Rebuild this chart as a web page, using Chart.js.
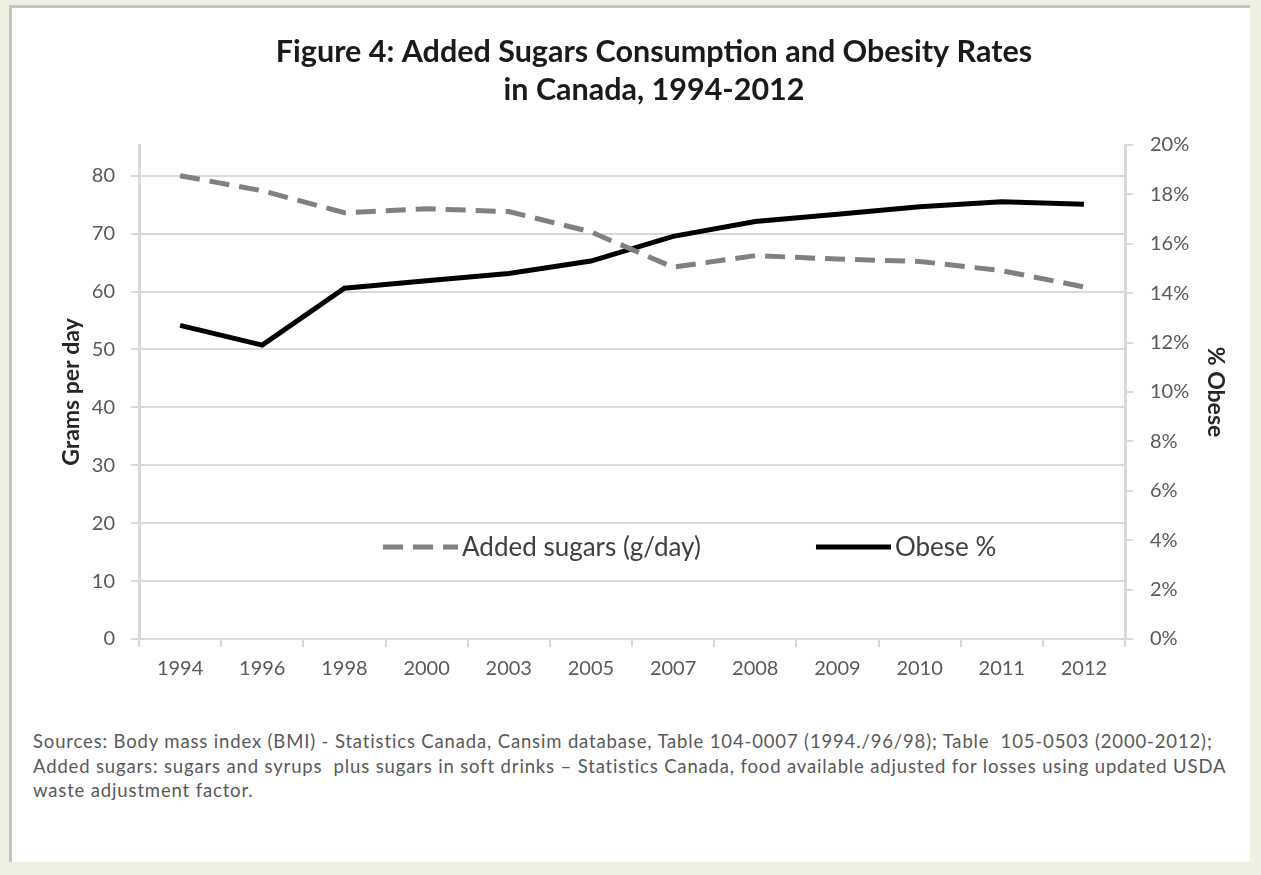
<!DOCTYPE html>
<html>
<head>
<meta charset="utf-8">
<script src="https://cdn.jsdelivr.net/npm/chart.js@4"></script>
<style>
  body { margin: 0; background: #eef0e1; font-family: 'Lato', sans-serif; }
  #box { position: absolute; left: 9px; top: 5px; width: 1238px; height: 854px; background: #fff;
         border-left: 3px solid #c4c4c4; border-top: 3px solid #c4c4c4; }
  #wrap { position: absolute; left: 0; top: 0; width: 1261px; height: 700px; }
  #source { position: absolute; left: 33px; top: 729px; font-size: 18.5px; letter-spacing: 0.85px; line-height: 24.5px; color: #595959; white-space: nowrap; }
</style>
</head>
<body>
<div id="box"></div>
<div id="wrap"><canvas id="chart" width="1261" height="700"></canvas></div>
<div id="source">
Sources: Body mass index (BMI) - Statistics Canada, Cansim database, Table 104-0007 (1994./96/98); Table&nbsp; 105-0503 (2000-2012);<br>
Added sugars: sugars and syrups&nbsp; plus sugars in soft drinks – Statistics Canada, food available adjusted for losses using updated USDA<br>
waste adjustment factor.
</div>
<script>
const years = ['1994', '1996', '1998', '2000', '2003', '2005', '2007', '2008', '2009', '2010', '2011', '2012'];
const addedSugars = [80.0, 77.4, 73.6, 74.3, 73.8, 70.3, 64.2, 66.2, 65.6, 65.2, 63.6, 60.8];
const obese = [12.7, 11.9, 14.2, 14.5, 14.8, 15.3, 16.3, 16.9, 17.2, 17.5, 17.7, 17.6];
const titleLines = ['Figure 4: Added Sugars Consumption and Obesity Rates', 'in Canada, 1994-2012'];

const gridGrey = '#d9d9d9';
const tickFont = { family: 'Lato', size: 20 };

// legend drawn inside the plot area, like the original
const insideLegend = {
    id: 'insideLegend',
    afterDatasetsDraw(chart) {
        const { ctx, chartArea } = chart;
        const w = chartArea.right - chartArea.left;
        const y = chartArea.top + (chartArea.bottom - chartArea.top) * 0.814;
        const starts = [0.2475, 0.6866];
        ctx.save();
        ctx.font = '26px Lato';
        ctx.textBaseline = 'middle';
        chart.data.datasets.forEach((ds, i) => {
            const x = chartArea.left + w * starts[i];
            ctx.beginPath();
            ctx.lineWidth = ds.borderWidth;
            ctx.strokeStyle = ds.borderColor;
            ctx.setLineDash(ds.borderDash || []);
            ctx.moveTo(x, y);
            ctx.lineTo(x + 75, y);
            ctx.stroke();
            ctx.fillStyle = '#404040';
            ctx.fillText(ds.label, x + 79, y);
        });
        ctx.restore();
    }
};

new Chart(document.getElementById('chart'), {
    type: 'line',
    data: {
        labels: years,
        datasets: [{
            label: 'Added sugars (g/day)',
            data: addedSugars,
            borderColor: '#808080',
            borderWidth: 5,
            borderDash: [20, 10],
            pointRadius: 0,
            yAxisID: 'y'
        }, {
            label: 'Obese %',
            data: obese,
            borderColor: '#000000',
            borderWidth: 5,
            pointRadius: 0,
            yAxisID: 'y1'
        }]
    },
    options: {
        responsive: false,
        animation: false,
        events: [],
        devicePixelRatio: 1,
        layout: { padding: { left: 72, right: 25, top: 0, bottom: 0 } },
        plugins: {
            legend: { display: false },
            tooltip: { enabled: false },
            title: {
                display: true,
                text: titleLines,
                color: '#1a1a1a',
                font: { family: 'Lato', size: 30.5, weight: 'bold', lineHeight: 38 / 30.5 },
                padding: { top: 33, bottom: 36 }
            }
        },
        scales: {
            x: {
                offset: true,
                grid: { display: true, drawOnChartArea: false, offset: true, color: gridGrey, lineWidth: 2, tickLength: 8 },
                border: { color: gridGrey, width: 2 },
                ticks: { color: '#595959', font: tickFont, padding: 10, maxRotation: 0 },
                afterFit(scale) { scale.height = 61; }
            },
            y: {
                position: 'left',
                min: 0,
                max: 85.3,
                grid: { color: gridGrey, lineWidth: 2, tickLength: 8 },
                border: { color: gridGrey, width: 3 },
                ticks: { stepSize: 10, includeBounds: false, color: '#595959', font: tickFont, padding: 16 },
                title: { display: true, text: 'Grams per day', color: '#262626', font: { family: 'Lato', size: 23, weight: 'bold' }, padding: { top: -14, bottom: 0 } },
                afterFit(scale) { scale.width = 67; }
            },
            y1: {
                position: 'right',
                min: 0,
                max: 20,
                grid: { drawOnChartArea: false, color: gridGrey, lineWidth: 2, tickLength: 8 },
                border: { color: gridGrey, width: 3 },
                ticks: { stepSize: 2, color: '#595959', font: tickFont, padding: 17, callback: v => v + '%' },
                title: { display: true, text: '% Obese', color: '#262626', font: { family: 'Lato', size: 23, weight: 'bold' }, padding: { top: 7, bottom: 0 } },
                afterFit(scale) { scale.width = 111; }
            }
        }
    },
    plugins: [insideLegend]
});
</script>
</body>
</html>
